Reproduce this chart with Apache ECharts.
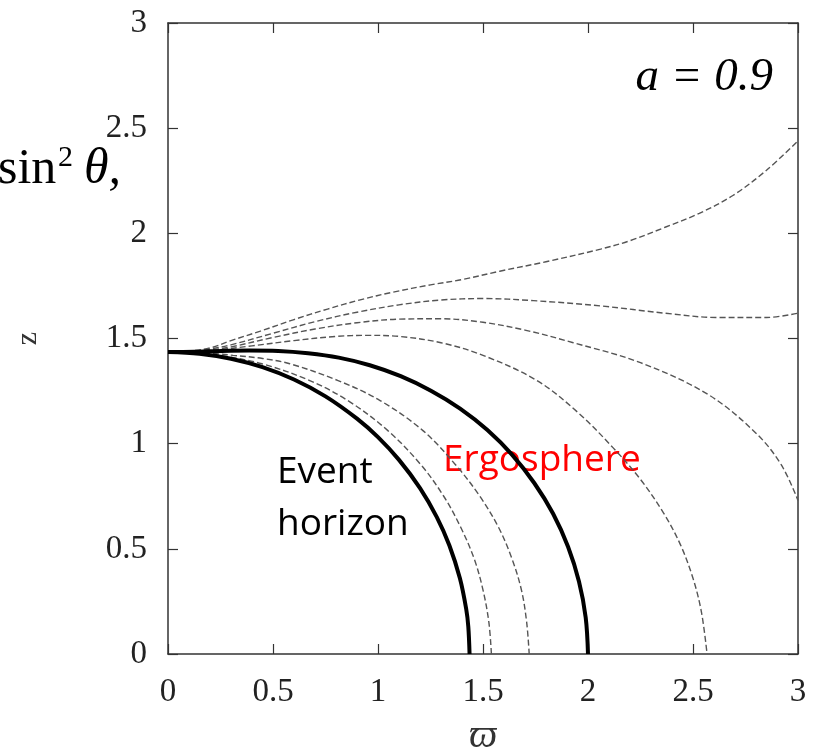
<!DOCTYPE html>
<html>
<head>
<meta charset="utf-8">
<script src="https://cdn.jsdelivr.net/npm/echarts@6/dist/echarts.min.js"></script>
<style>html,body{margin:0;padding:0;background:#fff}#c{width:815px;height:751px}</style>
</head>
<body>
<div id="c"></div>
<script>
// ---- data (ϖ, z) ----
const xTicks = ['0', '0.5', '1', '1.5', '2', '2.5', '3'];
const yTicks = ['0', '0.5', '1', '1.5', '2', '2.5', '3'];

const horizon = [[0,1.436],[0.15,1.428],[0.3,1.404],[0.45,1.364],[0.6,1.305],[0.75,1.225],[0.9,1.119],[1.0,1.031],[1.1,0.923],[1.2,0.789],[1.28,0.651],[1.34,0.516],[1.39,0.36],[1.42,0.214],[1.43,0.13],[1.436,0]];
const ergosphere = [[0,1.436],[0.126,1.437],[0.254,1.441],[0.387,1.443],[0.525,1.441],[0.667,1.43],[0.813,1.409],[0.961,1.373],[1.108,1.321],[1.252,1.252],[1.391,1.167],[1.521,1.065],[1.639,0.947],[1.744,0.813],[1.834,0.667],[1.905,0.51],[1.957,0.345],[1.989,0.174],[2.0,0]];

const curveA = [[0,1.436],[0.1,1.44],[0.2,1.455],[0.3,1.49],[0.44,1.535],[0.6,1.59],[0.76,1.64],[0.92,1.685],[1.07,1.72],[1.25,1.755],[1.4,1.78],[1.58,1.82],[1.8,1.865],[2.06,1.925],[2.2,1.965],[2.37,2.03],[2.53,2.095],[2.69,2.18],[2.85,2.3],[3.0,2.44]];
const curveB = [[0,1.436],[0.1,1.438],[0.2,1.45],[0.3,1.47],[0.5,1.525],[0.7,1.58],[0.9,1.625],[1.1,1.66],[1.3,1.683],[1.5,1.69],[1.74,1.68],[2.06,1.655],[2.37,1.62],[2.61,1.6],[2.85,1.6],[3.0,1.62]];
const curveC = [[0,1.436],[0.1,1.438],[0.2,1.445],[0.3,1.46],[0.5,1.505],[0.7,1.545],[0.9,1.575],[1.1,1.592],[1.3,1.594],[1.5,1.577],[1.7,1.54],[1.93,1.48],[2.25,1.385],[2.57,1.235],[2.8,1.05],[2.92,0.9],[3.0,0.73]];
const curveD = [[0,1.436],[0.2,1.443],[0.4,1.465],[0.6,1.49],[0.8,1.51],[0.95,1.515],[1.1,1.51],[1.3,1.48],[1.5,1.42],[1.757,1.3],[1.95,1.15],[2.12,0.98],[2.25,0.83],[2.36,0.67],[2.44,0.52],[2.5,0.36],[2.54,0.2],[2.567,0]];
const curveE = [[0,1.436],[0.15,1.434],[0.31,1.42],[0.45,1.405],[0.58,1.38],[0.81,1.3],[1.01,1.205],[1.214,1.062],[1.369,0.9],[1.485,0.75],[1.575,0.6],[1.639,0.45],[1.684,0.3],[1.708,0.15],[1.72,0]];
const curveF = [[0,1.436],[0.12,1.434],[0.243,1.42],[0.447,1.38],[0.675,1.3],[0.864,1.2],[1.047,1.062],[1.204,0.9],[1.313,0.75],[1.395,0.6],[1.459,0.45],[1.501,0.3],[1.528,0.15],[1.54,0]];

const dashedCurves = [curveA, curveB, curveC, curveD, curveE, curveF];

// ---- chart ----
const chart = echarts.init(document.getElementById('c'), null, {renderer: 'canvas'});
const serif = '"Liberation Serif", "DejaVu Serif", serif';
const sans = '"Open Sans", "Liberation Sans", sans-serif';
const axisCol = '#333';

function tickFmt(list) {
  return function (v) { const i = Math.round(v / 0.5); return list[i] !== undefined ? list[i] : ''; };
}

function axis(extra) {
  return Object.assign({
    type: 'value', min: 0, max: 3, interval: 0.5,
    axisLine: {show: true, onZero: false, lineStyle: {color: axisCol, width: 1.5}},
    axisTick: {show: true, inside: true, length: 10, lineStyle: {color: axisCol, width: 1.2}},
    splitLine: {show: false}
  }, extra);
}

const series = [];
dashedCurves.forEach(function (d) {
  series.push({type: 'line', data: d, smooth: 0.35, symbol: 'none', silent: true,
    lineStyle: {color: '#555', width: 1.4, type: [6, 3]}});
});
series.push({type: 'line', data: horizon, smooth: 0.35, symbol: 'none', silent: true,
  lineStyle: {color: '#000', width: 4}});
series.push({type: 'line', data: ergosphere, smooth: 0.35, symbol: 'none', silent: true,
  lineStyle: {color: '#000', width: 4}});

chart.setOption({
  animation: false,
  backgroundColor: '#fff',
  grid: {left: 168, right: 17, top: 23, bottom: 97, containLabel: false, outerBoundsMode: 'none'},
  xAxis: [
    axis({position: 'bottom',
      axisLabel: {show: true, margin: 22, color: '#222', fontFamily: serif, fontSize: 33, formatter: tickFmt(xTicks)},
      name: '\u03D6', nameLocation: 'middle', nameGap: 62,
      nameTextStyle: {fontFamily: serif, fontSize: 40, fontStyle: 'italic', color: '#333'}}),
    axis({position: 'top', axisLabel: {show: false}})
  ],
  yAxis: [
    axis({position: 'left',
      axisLabel: {show: true, margin: 21, color: '#222', fontFamily: serif, fontSize: 33, formatter: tickFmt(yTicks)},
      name: 'z', nameLocation: 'middle', nameGap: 125, nameRotate: 90,
      nameTextStyle: {fontFamily: serif, fontSize: 30, color: '#333'}}),
    axis({position: 'right', axisLabel: {show: false}})
  ],
  series: series,
  graphic: [
    {type: 'text', x: -2, y: 170, style: {text: 'sin', font: '50px ' + serif, fill: '#000', verticalAlign: 'middle'}},
    {type: 'text', x: 58, y: 158, style: {text: '2', font: '30px ' + serif, fill: '#000', verticalAlign: 'middle'}},
    {type: 'text', x: 84, y: 170, style: {text: '\u03B8,', font: 'italic 50px ' + serif, fill: '#000', verticalAlign: 'middle'}},
    {type: 'text', x: 773, y: 78, style: {text: 'a = 0.9', font: 'italic 47px ' + serif, fill: '#000', align: 'right', verticalAlign: 'middle'}},
    {type: 'text', x: 277, y: 472, style: {text: 'Event', font: '37px ' + sans, fill: '#000', verticalAlign: 'middle'}},
    {type: 'text', x: 277, y: 524, style: {text: 'horizon', font: '37px ' + sans, fill: '#000', verticalAlign: 'middle'}},
    {type: 'text', x: 443, y: 460, style: {text: 'Ergosphere', font: '37px ' + sans, fill: '#ff0000', verticalAlign: 'middle'}}
  ]
});
</script>
</body>
</html>
